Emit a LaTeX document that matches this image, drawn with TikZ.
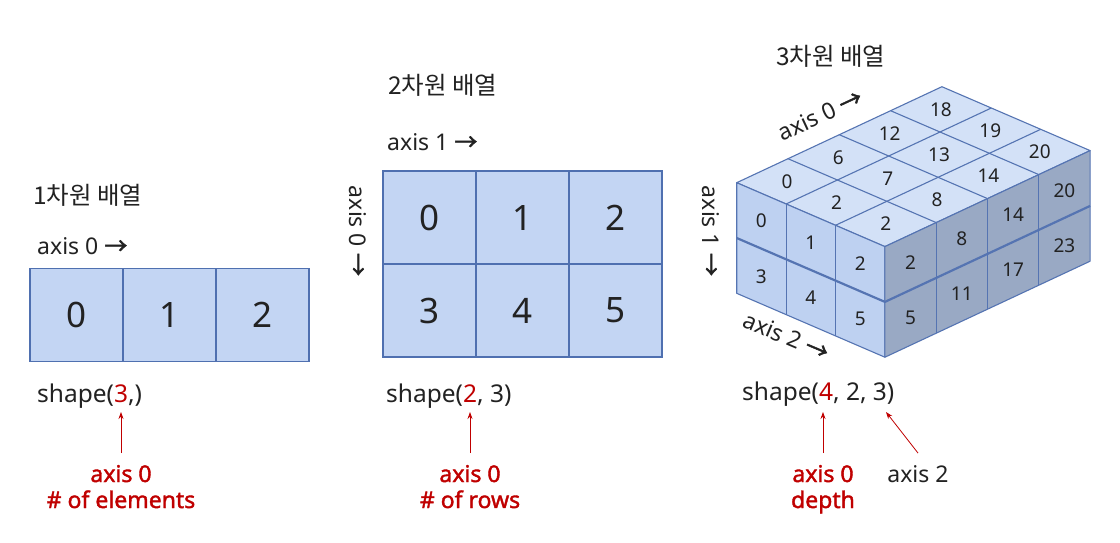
\documentclass[tikz,border=0pt]{standalone}
\usepackage{fontspec}
\setmainfont{Noto Sans}
\newfontfamily\krfont{Noto Sans CJK KR}
\newfontfamily\arrfont[FakeBold=2.2]{Noto Sans CJK KR}
\newfontfamily\redfont[FakeBold=1.6]{Noto Sans}
\usetikzlibrary{arrows.meta}
\definecolor{cellfill}{HTML}{C3D5F3}
\definecolor{cellline}{HTML}{4F70B0}
\definecolor{topfill}{HTML}{D3E1F7}
\definecolor{frontfill}{HTML}{BED1F1}
\definecolor{sidefill}{HTML}{99A9C4}
\definecolor{cubeline}{HTML}{5574B2}
\definecolor{axred}{HTML}{C00000}
\definecolor{txt}{HTML}{222222}
\newcommand{\rarr}{{\arrfont →}}

\begin{document}
\begin{tikzpicture}[x=1pt, y=-1pt,
cellnode/.style={rectangle, draw=cellline, fill=cellfill, line width=1.4pt, minimum width=93pt, minimum height=93pt, inner sep=0pt, text=txt, font=\fontsize{35}{40}\selectfont},
numnode/.style={inner sep=0pt, text=txt, font=\fontsize{19}{22}\selectfont},
title/.style={anchor=west, inner sep=0pt, text=txt, font=\krfont\fontsize{24.5}{28}\selectfont},
axislabel/.style={inner sep=0pt, text=txt, font=\fontsize{23}{26}\selectfont},
shapelabel/.style={anchor=west, inner sep=0pt, text=txt, font=\fontsize{24.5}{28}\selectfont},
redlabel/.style={anchor=base, inner sep=0pt, outer sep=12pt, text=axred, font=\redfont\fontsize{23}{26}\selectfont},
redarrow/.style={draw=axred, line width=0.8pt, -{Stealth[length=7pt, width=5pt]}},
cubeface/.style={draw=cubeline, line width=1.1pt, line join=round},
]
\fill[white] (0,0) rectangle (1120,542);
\useasboundingbox (0,0) rectangle (1120,542);

% 1차원
\node[title]                  (t1)   at (33,195)   {1차원 배열};
\node[axislabel, anchor=west] (ax10) at (37,246)   {axis 0 \rarr};
\node[cellnode]               (c0)   at (76.5,315) {0};
\node[cellnode]               (c1)   at (169.5,315) {1};
\node[cellnode]               (c2)   at (262.5,315) {2};
\node[shapelabel]             (s1)   at (37,396)   {shape(\textcolor{axred}{3},)};
\coordinate (s1red) at (121,412);
\node[redlabel] (l1a) at (121,482) {axis 0};
\node[redlabel] (l1b) at (121,508) {\# of elements};
\draw[redarrow] (l1a.north) -- (s1red);

% 2차원
\node[title]                  (t2)   at (388,85)   {2차원 배열};
\node[axislabel, anchor=west] (ax21) at (387,142)  {axis 1 \rarr};
\node[axislabel, rotate=-90]  (ax20) at (358,231)  {axis 0 \rarr};
\node[cellnode] (m0) at (429.5,217.5) {0};
\node[cellnode] (m1) at (522.5,217.5) {1};
\node[cellnode] (m2) at (615.5,217.5) {2};
\node[cellnode] (m3) at (429.5,310.5) {3};
\node[cellnode] (m4) at (522.5,310.5) {4};
\node[cellnode] (m5) at (615.5,310.5) {5};
\node[shapelabel]             (s2)   at (386,396)  {shape(\textcolor{axred}{2}, 3)};
\coordinate (s2red) at (470,412);
\node[redlabel] (l2a) at (470,482) {axis 0};
\node[redlabel] (l2b) at (470,508) {\# of rows};
\draw[redarrow] (l2a.north) -- (s2red);

% 3차원
\node[title]                  (t3)   at (776,56)   {3차원 배열};
\node[axislabel, rotate=25]   (ax30) at (820,115)  {axis 0 \rarr};
\node[axislabel, rotate=-90]  (ax31) at (711,231)  {axis 1 \rarr};
\node[axislabel, rotate=-23]  (ax32) at (786,336)  {axis 2 \rarr};
\begin{scope}[shift={(736.7,182.7)}, x={(49.4pt,-21.3pt)}, y={(51.3pt,24pt)}, z={(0pt,-55.3pt)}]
\filldraw[cubeface, fill=topfill]   (0,0,0) -- (3,0,0) -- (3,4,0) -- (0,4,0) -- cycle;
\filldraw[cubeface, fill=frontfill] (0,0,0) -- (3,0,0) -- (3,0,2) -- (0,0,2) -- cycle;
\filldraw[cubeface, fill=sidefill]  (3,0,0) -- (3,4,0) -- (3,4,2) -- (3,0,2) -- cycle;
% top grid
\draw[cubeface] (1,0,0) -- (1,4,0);
\draw[cubeface] (2,0,0) -- (2,4,0);
\draw[cubeface] (0,1,0) -- (3,1,0);
\draw[cubeface] (0,2,0) -- (3,2,0);
\draw[cubeface] (0,3,0) -- (3,3,0);
% front and side grid
\draw[cubeface] (1,0,0) -- (1,0,2);
\draw[cubeface] (2,0,0) -- (2,0,2);
\draw[cubeface] (3,1,0) -- (3,1,2);
\draw[cubeface] (3,2,0) -- (3,2,2);
\draw[cubeface] (3,3,0) -- (3,3,2);
\draw[cubeface, line width=2.2pt] (0,0,1) -- (3,0,1) -- (3,4,1);
% top numbers
\node[numnode] (p0)  at (0.5,0.5,0) {0};
\node[numnode] (p1)  at (1.5,0.5,0) {2};
\node[numnode] (p2)  at (2.5,0.5,0) {2};
\node[numnode] (p6)  at (0.5,1.5,0) {6};
\node[numnode] (p7)  at (1.5,1.5,0) {7};
\node[numnode] (p8)  at (2.5,1.5,0) {8};
\node[numnode] (p12) at (0.5,2.5,0) {12};
\node[numnode] (p13) at (1.5,2.5,0) {13};
\node[numnode] (p14) at (2.5,2.5,0) {14};
\node[numnode] (p18) at (0.5,3.5,0) {18};
\node[numnode] (p19) at (1.5,3.5,0) {19};
\node[numnode] (p20) at (2.5,3.5,0) {20};
% front numbers
\node[numnode] (f0) at (0.5,0,0.5) {0};
\node[numnode] (f1) at (1.5,0,0.5) {1};
\node[numnode] (f2) at (2.5,0,0.5) {2};
\node[numnode] (f3) at (0.5,0,1.5) {3};
\node[numnode] (f4) at (1.5,0,1.5) {4};
\node[numnode] (f5) at (2.5,0,1.5) {5};
% side numbers
\node[numnode] (r2)  at (3,0.5,0.5) {2};
\node[numnode] (r8)  at (3,1.5,0.5) {8};
\node[numnode] (r14) at (3,2.5,0.5) {14};
\node[numnode] (r20) at (3,3.5,0.5) {20};
\node[numnode] (r5)  at (3,0.5,1.5) {5};
\node[numnode] (r11) at (3,1.5,1.5) {11};
\node[numnode] (r17) at (3,2.5,1.5) {17};
\node[numnode] (r23) at (3,3.5,1.5) {23};
\end{scope}
\node[shapelabel] (s3) at (742,394) {shape(\textcolor{axred}{4}, 2, 3)};
\coordinate (s3red) at (823,412);
\coordinate (s3ax2) at (886,412);
\node[redlabel] (l3a) at (823,482) {axis 0};
\node[redlabel] (l3b) at (823,508) {depth};
\node[redlabel, text=txt, font=\fontsize{23}{26}\selectfont] (l3c) at (918,482) {axis 2};
\draw[redarrow] (l3a.north) -- (s3red);
\draw[redarrow] (l3c.north) -- (s3ax2);
\end{tikzpicture}
\end{document}
